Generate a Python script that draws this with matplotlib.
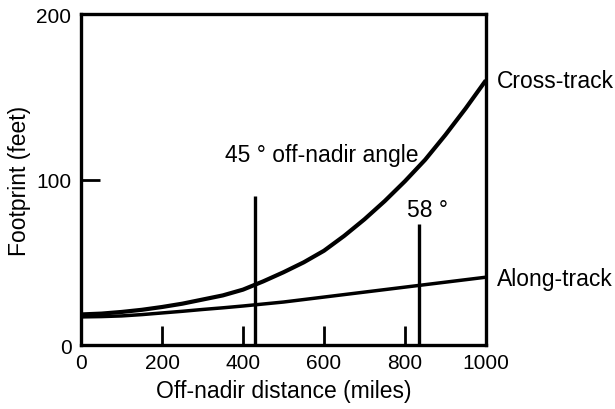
import matplotlib.pyplot as plt
import numpy as np

plt.rcParams['font.family'] = ['Liberation Sans', 'DejaVu Sans']

# off-nadir distance (miles)
dist = [0, 50, 100, 150, 200, 250, 300, 350, 400, 450, 500,
        550, 600, 650, 700, 750, 800, 850, 900, 950, 1000]
# footprint (feet)
cross_track = [18.5, 19, 20, 21.3, 23, 25, 27.5, 30, 33.5, 38.5, 44,
               50, 57, 66, 76, 87, 99, 112, 127, 143, 160]
along_track = [17, 17.2, 17.6, 18.4, 19.4, 20.4, 21.5, 22.5, 23.6, 24.8, 26,
               27.5, 29, 30.5, 32, 33.5, 35, 36.5, 38, 39.5, 41]

# angle markers: distance and top of line
angle_dist = [430, 835]
angle_top = [90, 73]

xticks = [0, 200, 400, 600, 800, 1000]
yticks = [0, 100, 200]

fig = plt.figure(figsize=(6.15, 4.1), dpi=100)
ax = fig.add_axes([0.132, 0.156, 0.658, 0.807])

ax.plot(dist, cross_track, color="black", lw=3.0, solid_capstyle="butt")
ax.plot(dist, along_track, color="black", lw=2.5, solid_capstyle="butt")
ax.vlines(angle_dist, 0, angle_top, color="black", lw=2.4)

ax.set_xlim(0, 1000)
ax.set_ylim(0, 200)
ax.set_xticks(xticks)
ax.set_yticks(yticks)
ax.tick_params(direction="in", length=14, width=2.0, labelsize=15)
ax.tick_params(axis="x", pad=6)
ax.tick_params(axis="y", pad=7)
for s in ax.spines.values():
    s.set_linewidth(2.4)

ax.set_xlabel("Off-nadir distance (miles)", fontsize=16.5, labelpad=5)
ax.set_ylabel("Footprint (feet)", fontsize=16.5, labelpad=4)

ax.text(356, 115, "45 ° off-nadir angle", fontsize=16.5, va="center")
ax.text(805, 82, "58 °", fontsize=16.5, va="center")
ax.text(1027, 160, "Cross-track", fontsize=16.5, va="center", clip_on=False)
ax.text(1027, 40.5, "Along-track", fontsize=16.5, va="center", clip_on=False)

plt.savefig("out.png")
